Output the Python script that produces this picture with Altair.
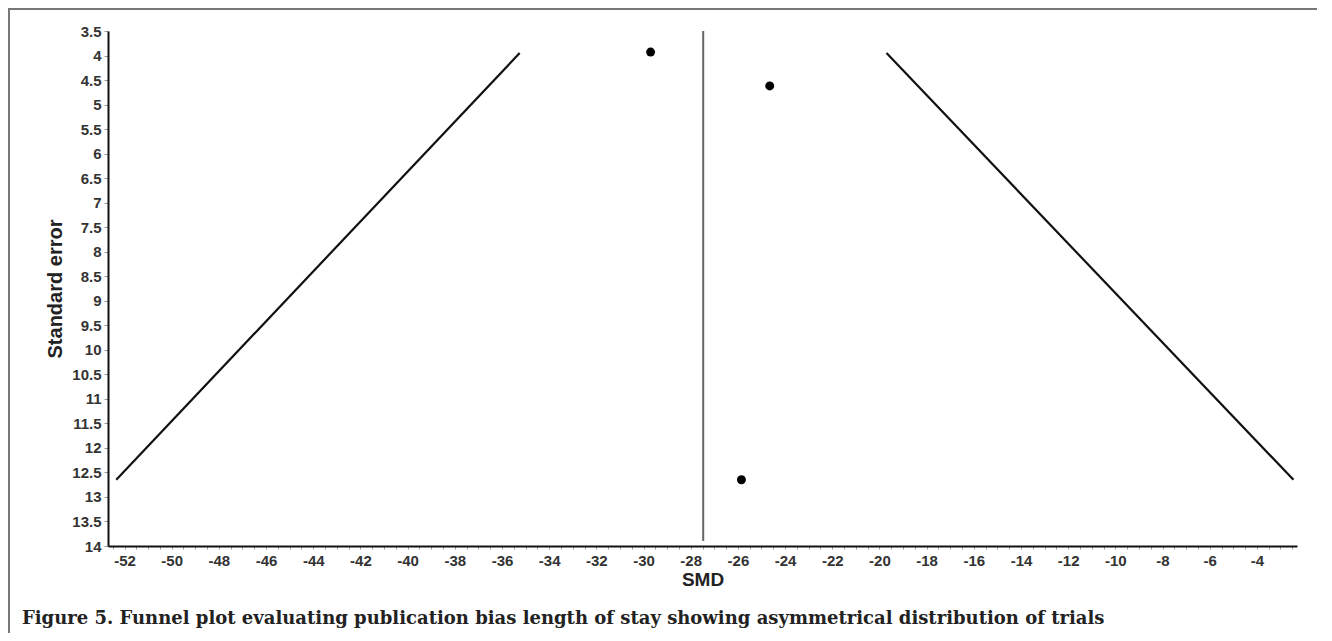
import altair as alt
import pandas as pd

# Data
point_smd = [-29.7, -24.65, -25.85]
point_se = [3.93, 4.62, 12.65]

funnel_se = [3.95, 12.65]
funnel_left_smd = [-35.25, -52.35]
funnel_right_smd = [-19.7, -2.45]

pooled_smd = -27.47
pooled_se_range = [3.5, 13.9]

x_domain = [-52.7, -2.3]
y_domain = [3.5, 14]
x_ticks = [v / 2 for v in range(-105, -4)]  # every 0.5
y_ticks = [v / 2 for v in range(7, 29)]      # 3.5 .. 14

caption = ("Figure 5. Funnel plot evaluating publication bias length of stay "
           "showing asymmetrical distribution of trials")

points = pd.DataFrame({"smd": point_smd, "se": point_se})
lines = pd.DataFrame({
    "smd": funnel_left_smd + funnel_right_smd,
    "se": funnel_se + funnel_se,
    "side": ["left", "left", "right", "right"],
})
pooled = pd.DataFrame({"smd": [pooled_smd], "se": [pooled_se_range[0]],
                       "se2": [pooled_se_range[1]]})

xscale = alt.Scale(domain=x_domain, nice=False, zero=False)
yscale = alt.Scale(domain=y_domain, nice=False, zero=False, reverse=True)

xaxis = alt.Axis(
    title="SMD", values=x_ticks,
    labelExpr="(datum.value % 2 == 0) ? toString(datum.value) : ''",
    labelOverlap=False, labelFlush=False, grid=False,
    tickSize=3, tickColor="#999", tickWidth=1,
    domainColor="#111", domainWidth=2,
    labelFont="Liberation Sans", labelFontWeight="bold", labelFontSize=15,
    labelColor="#333", labelPadding=4,
    titleFont="Liberation Sans", titleFontWeight="bold", titleFontSize=19,
    titleColor="#222", titlePadding=2,
)
yaxis = alt.Axis(
    title="Standard error", values=y_ticks,
    labelExpr="toString(datum.value)",
    labelOverlap=False, labelFlush=False, grid=False,
    tickSize=4, tickColor="#999", tickWidth=1,
    domainColor="#111", domainWidth=2,
    labelFont="Liberation Sans", labelFontWeight="bold", labelFontSize=15,
    labelColor="#333", labelPadding=3,
    titleFont="Liberation Sans", titleFontWeight="bold", titleFontSize=20,
    titleColor="#222", titlePadding=6,
)

base_x = alt.X("smd:Q", scale=xscale, axis=xaxis)
base_y = alt.Y("se:Q", scale=yscale, axis=yaxis)

funnel = alt.Chart(lines).mark_line(color="#111", strokeWidth=2.2).encode(
    x=base_x, y=base_y, detail="side:N"
)
rule = alt.Chart(pooled).mark_rule(color="#666", strokeWidth=2).encode(
    x=base_x, y=base_y, y2="se2:Q"
)
dots = alt.Chart(points).mark_circle(color="#000", opacity=1, size=80).encode(
    x=base_x, y=base_y
)

# outer figure frame (decoration)
frame_top = alt.Chart(pooled).mark_rule(color="#777", strokeWidth=2).encode(
    x=alt.value(-100), x2=alt.value(1209), y=alt.value(-22)
)
frame_left = alt.Chart(pooled).mark_rule(color="#777", strokeWidth=2).encode(
    x=alt.value(-99), y=alt.value(-22), y2=alt.value(620)
)
caption_text = alt.Chart(pooled).mark_text(
    align="left", baseline="middle", font="DejaVu Serif",
    fontSize=18, fontWeight="bold", color="#222",
).encode(x=alt.value(-86), y=alt.value(588), text=alt.value(caption))

chart = alt.layer(frame_top, frame_left, funnel, rule, dots, caption_text).properties(
    width=1189, height=515,
    autosize=alt.AutoSizeParams(type="none"),
    padding={"left": 100, "top": 23, "right": 20, "bottom": 87},
).configure_view(strokeWidth=0)

chart.save("out.html", embed_options={"renderer": "svg", "actions": False})
